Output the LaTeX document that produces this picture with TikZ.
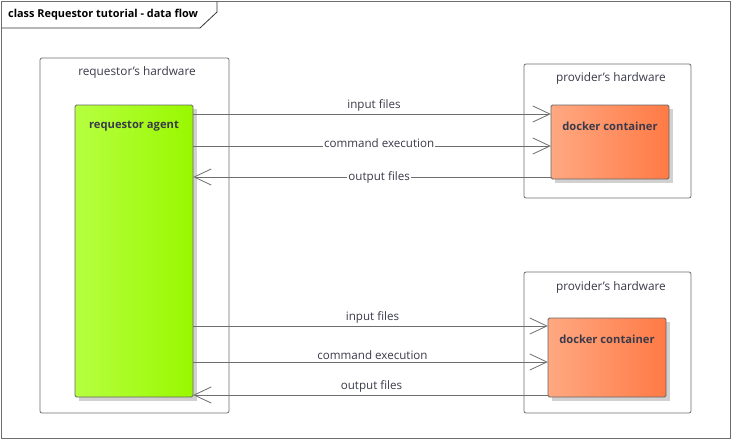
\documentclass[tikz,border=0pt]{standalone}
\usepackage{fontspec}
\setmainfont{Open Sans}
\usetikzlibrary{arrows.meta}
\newcommand{\sq}{\char"0027\relax}
\definecolor{edge}{HTML}{6E6E6E}
\definecolor{txt}{HTML}{3A3A4A}
\definecolor{greenL}{HTML}{B6FF40}
\definecolor{greenR}{HTML}{99F800}
\definecolor{orL}{HTML}{FFA882}
\definecolor{orR}{HTML}{FF7A45}
\tikzset{
  hw/.style={draw=edge, line width=0.8pt, rounded corners=2pt, fill=white},
  hwlabel/.style={text=txt, font=\fontsize{11.8}{13}\selectfont, inner sep=0pt},
  comp/.style={draw=black!60, line width=0.8pt, rounded corners=1.5pt},
  complabel/.style={text=txt, font=\bfseries\fontsize{11.2}{13}\selectfont, inner sep=0pt},
  shadowbox/.style={fill=black!18, draw=none},
  flow/.style={draw=edge, line width=0.8pt, -{Straight Barb[length=17pt,width=16pt,line width=0.8pt]}},
  flowlabel/.style={text=txt, font=\fontsize{11.6}{13}\selectfont, inner sep=1pt},
  onlabel/.style={flowlabel, fill=white},
}
\begin{document}
\begin{tikzpicture}[x=1pt,y=-1pt]
\useasboundingbox (0,0) rectangle (732,440);
% outer frame
\draw[edge, line width=0.8pt] (1.5,1.5) rectangle (730.5,438.5);
\draw[black!80, line width=0.8pt] (1.5,28) -- (200,28) -- (217,12) -- (217,1.5);
\node[anchor=west, inner sep=0pt, font=\bfseries\fontsize{10.9}{13}\selectfont] (title) at (8,15) {class Requestor tutorial - data flow};

% requestor hardware
\draw[hw] (40,58) rectangle (229,413);
\node[hwlabel] (rhw) at (137,72) {requestor\sq s hardware};
\fill[shadowbox] (79,109) rectangle (197,401);
\draw[comp, left color=greenL, right color=greenR] (75,105) rectangle (193,397);
\node[inner sep=0pt, minimum width=118pt, minimum height=292pt] (agent) at (134,251) {};
\node[complabel] (agentlbl) at (134,126) {requestor agent};

% provider hardware 1
\draw[hw] (524,64) rectangle (691,198);
\node[hwlabel] (phw1) at (611,78) {provider\sq s hardware};
\fill[shadowbox] (555,109) rectangle (673,183);
\draw[comp, left color=orL, right color=orR] (551,105) rectangle (669,179);
\node[inner sep=0pt, minimum width=118pt, minimum height=74pt] (dock1) at (610,142) {};
\node[complabel] (dock1lbl) at (610,126) {docker container};

% provider hardware 2
\draw[hw] (524,272) rectangle (691,413);
\node[hwlabel] (phw2) at (611,287) {provider\sq s hardware};
\fill[shadowbox] (552,322) rectangle (670,401);
\draw[comp, left color=orL, right color=orR] (548,318) rectangle (666,397);
\node[inner sep=0pt, minimum width=118pt, minimum height=79pt] (dock2) at (607,357.5) {};
\node[complabel] (dock2lbl) at (607,339) {docker container};

% flows top
\draw[flow] (agent.east |- 0,114) -- node[flowlabel, above=1pt, xshift=2pt] (l1) {input files} (dock1.west |- 0,114);
\draw[flow] (agent.east |- 0,146) -- node[onlabel, pos=0.52, yshift=3pt] (l2) {command execution} (dock1.west |- 0,146);
\draw[flow] (dock1.west |- 0,177) -- node[onlabel, pos=0.48] (l3) {output files} (agent.east |- 0,177);

% flows bottom
\draw[flow] (agent.east |- 0,326) -- node[flowlabel, above=1pt, xshift=2pt] (l4) {input files} (dock2.west |- 0,326);
\draw[flow] (agent.east |- 0,362) -- node[flowlabel, above=1pt, xshift=2pt] (l5) {command execution} (dock2.west |- 0,362);
\draw[flow] (dock2.west |- 0,395) -- node[flowlabel, above=1pt, xshift=1pt] (l6) {output files} (agent.east |- 0,395);
\end{tikzpicture}
\end{document}
